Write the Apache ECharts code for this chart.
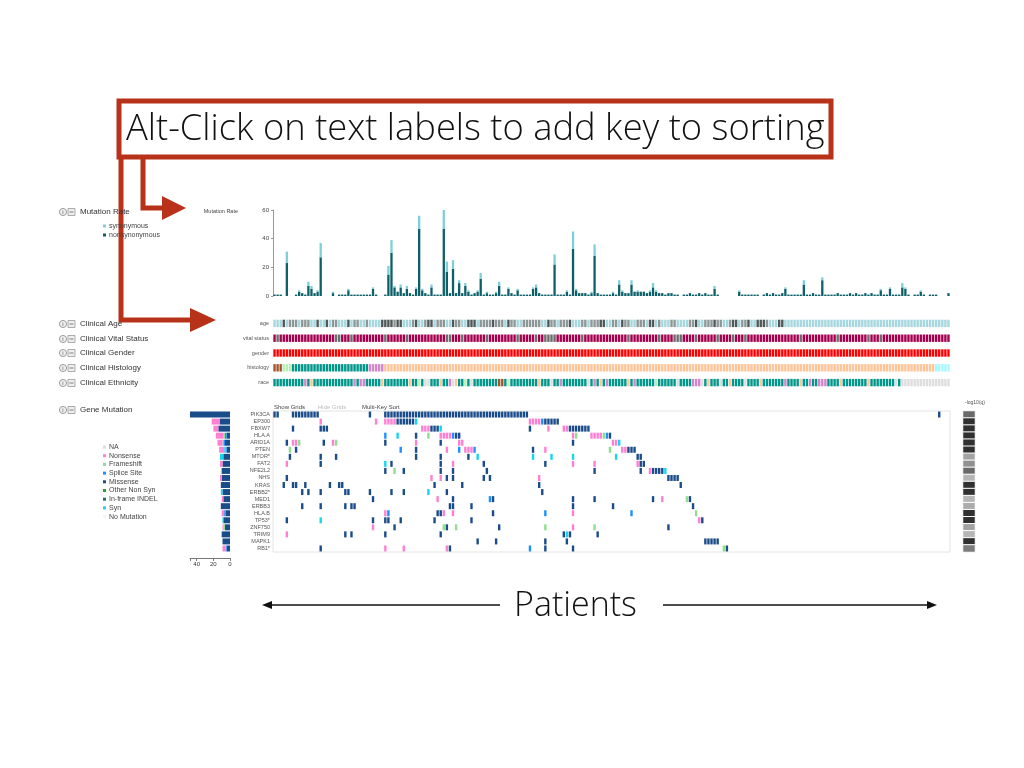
<!DOCTYPE html>
<html>
<head>
<meta charset="utf-8">
<script src="https://cdn.jsdelivr.net/npm/echarts@6/dist/echarts.min.js"></script>
<style>
html, body { margin: 0; padding: 0; background: #fff; }
#main { width: 1024px; height: 768px; }
</style>
</head>
<body>
<div id="main"></div>
<script>
var N_PAT = 220;

// mutation rate per patient
var nonsynRate = [
	1,1,1,0,23,0,0,1,3,2,1,7,5,2,3,27,0,0,0,2,
	0,1,1,1,4,1,1,1,1,1,1,1,5,1,0,0,1,15,30,6,
	3,6,2,5,2,1,5,47,4,2,1,6,1,1,1,47,17,2,19,2,
	9,2,7,3,1,2,3,12,1,2,1,1,2,7,1,1,5,2,1,4,
	1,1,1,1,5,6,2,1,1,1,1,22,1,1,1,3,1,33,4,2,
	2,2,1,2,28,2,1,1,1,1,2,1,8,3,2,2,8,3,3,3,
	3,2,3,6,3,2,2,1,2,2,1,1,0,1,1,2,1,1,2,1,
	2,1,1,5,1,0,0,0,0,0,0,3,1,1,1,1,1,1,0,1,
	2,1,2,1,1,2,5,1,1,1,1,1,8,1,1,2,1,1,11,1,
	1,1,1,2,1,1,1,2,1,2,1,1,2,1,2,1,1,4,1,1,
	5,1,1,1,6,5,1,0,1,1,3,1,0,1,1,1,0,0,0,2
];
var synRate = [
	0,0,0,0,8,0,0,0,1,0,0,3,2,0,1,10,0,0,0,1,
	0,0,0,0,1,0,0,0,0,0,0,0,1,0,0,0,0,6,9,1,
	0,2,0,2,0,0,1,9,1,0,0,2,0,0,0,14,7,0,6,0,
	2,0,2,1,0,0,1,4,0,1,0,0,1,3,0,0,1,0,0,1,
	0,0,0,0,1,2,0,0,0,0,0,7,0,0,0,1,0,12,1,0,
	0,0,0,1,8,0,0,0,0,0,1,0,3,1,0,0,3,0,1,0,
	0,0,1,3,1,0,0,0,0,0,0,0,0,0,0,0,0,0,0,0,
	0,0,0,2,0,0,0,0,0,0,0,1,0,0,0,0,0,0,0,0,
	0,0,0,0,0,0,1,0,0,0,0,0,3,0,0,0,0,0,2,0,
	0,0,0,0,0,0,0,0,0,0,0,0,0,0,0,0,0,1,0,0,
	1,0,0,0,3,1,0,0,0,0,1,0,0,0,0,0,0,0,0,0
];

// clinical tracks as runs [code, count]
var ageRuns = [['a',3],['b',1],['a',1],['c',3],['a',1],['c',3],['a',2],['b',1],['a',2],['b',1],['a',1],['c',2],['a',3],['b',1],['a',1],['c',2],['a',2],['c',1],['a',4],['b',4],['c',1],['b',2],['a',3],['c',1],['b',1],['a',2],['c',1],['b',2],['a',1],['c',3],['a',2],['b',1],['c',2],['a',2],['b',3],['a',1],['c',4],['b',1],['c',3],['a',1],['b',1],['c',2],['a',2],['c',6],['a',2],['b',1],['c',2],['a',1],['c',3],['b',1],['a',3],['c',2],['a',1],['c',3],['b',2],['a',2],['c',2],['a',1],['b',1],['c',2],['a',2],['c',3],['a',1],['b',2],['a',1],['c',1],['a',3],['c',2],['a',4],['c',2],['b',1],['a',2],['c',3],['b',1],['c',2],['a',2],['c',1],['b',2],['a',1],['c',2],['b',1],['a',2],['b',3],['c',1],['a',3],['b',2],['a',1],['a',5]];
var vitalRuns = [['p',1],['g',1],['p',18],['g',2],['p',3],['g',1],['p',10],['g',1],['p',6],['g',1],['p',12],['g',2],['p',3],['g',1],['p',7],['g',1],['p',9],['g',1],['p',5],['g',1],['p',2],['g',4],['p',8],['g',1],['p',14],['g',1],['p',9],['g',1],['p',4],['g',3],['p',4],['g',1],['p',6],['g',1],['p',4],['g',1],['p',3],['g',1],['p',17],['g',1],['p',11],['g',1],['p',9],['g',1],['p',3],['g',1],['p',4]];
var genderRuns = [['r',220]];
var histologyRuns = [['h1',3],['h2',3],['h3',25],['h4',5],['h5',179],['h6',5]];
var raceRuns = [['t',10],['k',1],['t',1],['o',1],['t',13],['k',1],['t',1],['k',2],['t',5],['o',1],['t',8],['o',1],['t',2],['l',1],['t',1],['w',2],['t',3],['o',1],['t',2],['k',1],['w',1],['o',1],['t',2],['l',1],['t',1],['w',1],['t',8],['h1',2],['t',1],['l',1],['t',9],['o',1],['t',3],['w',1],['t',2],['k',1],['t',8],['w',1],['t',1],['k',1],['t',1],['o',1],['t',1],['k',1],['t',6],['o',1],['t',1],['k',1],['t',6],['l',1],['t',6],['w',1],['t',4],['k',3],['w',1],['t',1],['o',1],['t',3],['w',1],['t',2],['o',1],['t',4],['w',1],['t',4],['o',1],['t',7],['k',1],['t',4],['o',1],['t',2],['k',1],['t',2],['k',3],['t',4],['o',1],['t',8],['o',1],['t',8],['w',1],['t',1],['w',1]];
var trackNames = ['age', 'vital status', 'gender', 'histology', 'race'];

var clinicalColors = {
	a: '#a6d7de', b: '#4f5858', c: '#8d9797',
	p: '#a3004f', g: '#6c6c6c',
	r: '#ff0000',
	h1: '#a3562b', h2: '#b8f0b8', h3: '#00968a', h4: '#d285c9', h5: '#ffc497', h6: '#a8f8ff',
	t: '#00968a', o: '#ffc497', k: '#d285c9', l: '#b8f0b8', w: '#dedede'
};

// gene mutations: "from-to:type" or "idx:type"
var genes = ['PIK3CA','EP300','FBXW7','HLA.A','ARID1A','PTEN','MTOR*','FAT2','NFE2L2','NHS','KRAS','ERBB2*','MED1','ERBB3','HLA.B','TP53*','ZNF750','TRIM9','MAPK1','RB1*'];
var geneEvents = [
	['0-1:M','6-14:M','31:M','36-82:M','216:M'],
	['15:N','33:N','36-39:N','40-45:M','46:Y','83-86:N','87:S','88-92:M'],
	['6:M','15-17:M','48-50:N','51-53:M','54:Y','83:M','89:N','94-95:N','96-102:M'],
	['36:S','40:Y','46:M','50:F','54-57:N','58:S','59-60:M','97:N','98:F','103-106:N','107:F','108:S','109:M'],
	['4:M','6-7:N','8:F','16:M','19:N','20:F','36:M','46:N','54:M','60-61:N','97:M','110-111:N','112:Y'],
	['5:F','7:M','41:S','46:M','56:N','60:S','62-63:N','64:N','65:S','84:M','88:N','109:F','113-114:N','115-117:M'],
	['5:M','15:M','20:M','46:M','54:M','63:M','66:Y','84:Y','90:Y','97:Y','111:Y','118-119:M'],
	['4:N','15:M','36:Y','38:M','54:M','58:N','68:M','88:M','97:N','104:N','118:N','119-120:M'],
	['36:M','39:F','42:M','54:M','58:M','69:M','104:M','119:M','122:N','123-126:M','127:Y'],
	['4:M','51:N','54:N','56:M','58:M','68:M','70:M','86:N','128-131:M'],
	['3:M','6-7:M','10:M','18:M','21-22:M','52:M','61:M','86:M','132:M'],
	['9:M','11:M','15:M','23-24:M','31:M','38:M','42:M','50:Y','56:M','87:M'],
	['32:M','53:N','58:M','70:S','71:M','97:M','104:M','123:M','126:N','134:F','135:M'],
	['9:M','15:M','23:M','25-26:M','57-58:M','64:M','97:M','110:M','136:M'],
	['36:N','37:S','53-54:M','55:N','58:N','71:M','88:S','97:N','116:S','137:F'],
	['4:M','15:Y','32:M','36-37:M','41:M','52:M','64:M','138:N','139:M'],
	['32:N','39:M','55:F','56:M','59:F','73:M','88:F','97:N','104:F','128:M'],
	['4:N','23:M','25:M','36:M','54:M','94:M','95:Y','96:M','105:M'],
	['66:M','72:M','88:M','95:M','140-144:M'],
	['15:M','36:N','42:N','56:N','57:M','83:S','88:M','97:M','146:F','147:M']
];
var typeColors = { M: '#1b4c8a', N: '#ff80d2', F: '#8fdf8f', S: '#1e8fff', O: '#2ca02c', I: '#1e6e6e', Y: '#14d6f0' };

// side bar counts per gene
var barMissense = [50,12,14,4,6,4,8,9,10,10,11,9,8,11,5,8,6,10,9,4];
var barSplice   = [0,0,0,2,2,1,0,0,0,0,0,0,0,0,2,0,0,0,0,1];
var barSyn      = [0,0,0,0,0,2,4,0,0,0,0,2,0,0,0,1,0,0,0,0];
var barFrame    = [0,0,0,2,1,0,0,0,1,0,0,0,0,0,0,0,2,0,0,0];
var barNonsense = [0,10,6,9,6,6,0,3,0,2,0,0,2,0,3,0,1,0,0,4];
var barTicks = [40, 20, 0];

// -log10(q) per gene
var qValues = [6,9,9,9,9,9,3,4,6,2,9,9,2,2.5,9,9,3,2,9,5];

var legendItems = [['NA','#dddddd'],['Nonsense','#ff80d2'],['Frameshift','#8fdf8f'],['Splice Site','#1e8fff'],['Missense','#1b4c8a'],['Other Non Syn','#2ca02c'],['In-frame INDEL','#1e6e6e'],['Syn','#14d6f0'],['No Mutation','#f4f4f4']];
var leftLabels = [['Mutation Rate',212],['Clinical Age',324],['Clinical Vital Status',339],['Clinical Gender',353],['Clinical Histology',368],['Clinical Ethnicity',383],['Gene Mutation',410]];

function expand(runs) {
	var out = [];
	runs.forEach(function (r) {
		for (var k = 0; k < r[1]; k++) out.push(r[0]);
	});
	while (out.length < N_PAT) out.push(runs[runs.length - 1][0]);
	return out.slice(0, N_PAT);
}

var patients = [];
for (var i = 0; i < N_PAT; i++) patients.push(String(i));

var clinicalData = [];
[ageRuns, vitalRuns, genderRuns, histologyRuns, raceRuns].forEach(function (runs, row) {
	expand(runs).forEach(function (code, idx) {
		clinicalData.push({ value: [idx, row], itemStyle: { color: clinicalColors[code] } });
	});
});

var mutationData = [];
geneEvents.forEach(function (list, row) {
	list.forEach(function (ev) {
		var parts = ev.split(':');
		var range = parts[0].split('-');
		var a = +range[0], b = range.length > 1 ? +range[1] : a;
		for (var k = a; k <= b; k++) {
			mutationData.push({ value: [k, row], itemStyle: { color: typeColors[parts[1]] } });
		}
	});
});

function cellRenderer(wFrac, hFrac) {
	return function (params, api) {
		var p = api.coord([api.value(0), api.value(1)]);
		var s = api.size([1, 1]);
		var w = s[0] * wFrac, h = s[1] * hFrac;
		return {
			type: 'rect',
			shape: { x: p[0] - w / 2, y: p[1] - h / 2, width: w, height: h },
			style: { fill: api.visual('color') }
		};
	};
}

var font = '"Liberation Sans", Arial, sans-serif';
var titleFont = '"Open Sans", "Liberation Sans", sans-serif';
var graphics = [];

// annotation box and arrows
graphics.push({ type: 'rect', shape: { x: 119, y: 101, width: 712, height: 56 }, style: { fill: 'none', stroke: '#b8321a', lineWidth: 5 } });
graphics.push({ type: 'text', x: 126, y: 130, style: { text: 'Alt-Click on text labels to add key to sorting', font: '300 36.3px ' + titleFont, fill: '#111', verticalAlign: 'middle' } });
graphics.push({ type: 'polyline', shape: { points: [[143, 157], [143, 208], [165, 208]] }, style: { stroke: '#b8321a', lineWidth: 5, fill: 'none' } });
graphics.push({ type: 'polygon', shape: { points: [[162, 196], [186, 208], [162, 220]] }, style: { fill: '#b8321a' } });
graphics.push({ type: 'polyline', shape: { points: [[121, 157], [121, 320], [195, 320]] }, style: { stroke: '#b8321a', lineWidth: 5, fill: 'none' } });
graphics.push({ type: 'polygon', shape: { points: [[190, 308], [216, 320], [190, 332]] }, style: { fill: '#b8321a' } });

// patients axis annotation
graphics.push({ type: 'text', x: 514, y: 606, style: { text: 'Patients', font: '300 34px ' + titleFont, fill: '#111', verticalAlign: 'middle' } });
graphics.push({ type: 'line', shape: { x1: 266, y1: 605, x2: 500, y2: 605 }, style: { stroke: '#111', lineWidth: 1.3 } });
graphics.push({ type: 'polygon', shape: { points: [[262, 605], [272, 601], [272, 609]] }, style: { fill: '#111' } });
graphics.push({ type: 'line', shape: { x1: 663, y1: 605, x2: 932, y2: 605 }, style: { stroke: '#111', lineWidth: 1.3 } });
graphics.push({ type: 'polygon', shape: { points: [[937, 605], [927, 601], [927, 609]] }, style: { fill: '#111' } });

// left labels with icons
leftLabels.forEach(function (l) {
	graphics.push({ type: 'circle', shape: { cx: 63, cy: l[1], r: 3.6 }, style: { fill: '#eee', stroke: '#888', lineWidth: 0.8 } });
	graphics.push({ type: 'text', x: 63, y: l[1], style: { text: 'i', font: '6px ' + font, fill: '#555', align: 'center', verticalAlign: 'middle' } });
	graphics.push({ type: 'rect', shape: { x: 68, y: l[1] - 3.5, width: 7, height: 7 }, style: { fill: '#eee', stroke: '#999', lineWidth: 0.8 } });
	graphics.push({ type: 'line', shape: { x1: 69.5, y1: l[1], x2: 73.5, y2: l[1] }, style: { stroke: '#666', lineWidth: 0.8 } });
	graphics.push({ type: 'text', x: 80, y: l[1], style: { text: l[0], font: '8px ' + font, fill: '#333', verticalAlign: 'middle' } });
});
[['synonymous', '#7fcfd8', 226], ['nonsynonymous', '#0d6068', 235]].forEach(function (s) {
	graphics.push({ type: 'rect', shape: { x: 103, y: s[2] - 1.5, width: 3, height: 3 }, style: { fill: s[1] } });
	graphics.push({ type: 'text', x: 109, y: s[2], style: { text: s[0], font: '7px ' + font, fill: '#444', verticalAlign: 'middle' } });
});
legendItems.forEach(function (it, k) {
	var y = 447 + k * 8.7;
	graphics.push({ type: 'rect', shape: { x: 103, y: y - 1.5, width: 3, height: 3 }, style: { fill: it[1] } });
	graphics.push({ type: 'text', x: 109, y: y, style: { text: it[0], font: '7px ' + font, fill: '#444', verticalAlign: 'middle' } });
});

// small texts around tracks
graphics.push({ type: 'text', x: 238, y: 211, style: { text: 'Mutation Rate', font: '5.5px ' + font, fill: '#444', align: 'right', verticalAlign: 'middle' } });
graphics.push({ type: 'text', x: 274, y: 407, style: { text: 'Show Grids', font: '6px ' + font, fill: '#444', verticalAlign: 'middle' } });
graphics.push({ type: 'text', x: 318, y: 407, style: { text: 'Hide Grids', font: '6px ' + font, fill: '#bbb', verticalAlign: 'middle' } });
graphics.push({ type: 'text', x: 362, y: 407, style: { text: 'Multi-Key Sort', font: '6px ' + font, fill: '#444', verticalAlign: 'middle' } });
graphics.push({ type: 'text', x: 965, y: 403, style: { text: '-log10(q)', font: '5px ' + font, fill: '#555', verticalAlign: 'middle' } });

var chart = echarts.init(document.getElementById('main'));

chart.setOption({
	animation: false,
	grid: [
		{ left: 273, right: 74, top: 210, height: 86 },
		{ left: 273, right: 74, top: 316, height: 74 },
		{ left: 273, right: 74, top: 411, height: 141, show: true, borderColor: '#e4e4e4', borderWidth: 1 },
		{ left: 190, right: 794, top: 411, height: 141 },
		{ left: 963, right: 49, top: 411, height: 141 }
	],
	xAxis: [
		{ gridIndex: 0, type: 'category', data: patients, show: false },
		{ gridIndex: 1, type: 'category', data: patients, show: false },
		{ gridIndex: 2, type: 'category', data: patients, show: false },
		{ gridIndex: 3, type: 'value', inverse: true, min: 0, max: 48, interval: 20, offset: 6,
			axisLine: { show: true, lineStyle: { color: '#777' } }, axisTick: { show: true, length: 3 },
			splitLine: { show: false },
			axisLabel: { fontSize: 6, color: '#333', margin: 3, fontFamily: font,
				formatter: function (v) { return barTicks.indexOf(v) >= 0 ? v : ''; } } },
		{ gridIndex: 4, type: 'category', data: ['q'], show: false }
	],
	yAxis: [
		{ gridIndex: 0, type: 'value', min: 0, max: 60, interval: 20,
			axisLine: { show: true, lineStyle: { color: '#999' } }, axisTick: { show: true, length: 2 },
			splitLine: { show: false },
			axisLabel: { fontSize: 6, color: '#444', margin: 4, fontFamily: font } },
		{ gridIndex: 1, type: 'category', data: trackNames, inverse: true,
			axisLine: { show: false }, axisTick: { show: false },
			axisLabel: { fontSize: 5.5, color: '#555', margin: 4, interval: 0, fontFamily: font } },
		{ gridIndex: 2, type: 'category', data: genes, inverse: true,
			axisLine: { show: false }, axisTick: { show: false },
			axisLabel: { fontSize: 5.5, color: '#555', margin: 3, interval: 0, fontFamily: font } },
		{ gridIndex: 3, type: 'category', data: genes, inverse: true, show: false },
		{ gridIndex: 4, type: 'category', data: genes, inverse: true, show: false }
	],
	visualMap: {
		show: false, seriesIndex: 9, min: 0, max: 9, dimension: 2,
		inRange: { color: ['#dcdcdc', '#303030'] }
	},
	series: [
		{ type: 'bar', xAxisIndex: 0, yAxisIndex: 0, stack: 'rate', data: nonsynRate, barCategoryGap: '25%', itemStyle: { color: '#0d6068' } },
		{ type: 'bar', xAxisIndex: 0, yAxisIndex: 0, stack: 'rate', data: synRate, itemStyle: { color: '#7fcfd8' } },
		{ type: 'custom', xAxisIndex: 1, yAxisIndex: 1, renderItem: cellRenderer(0.78, 0.5), data: clinicalData },
		{ type: 'custom', xAxisIndex: 2, yAxisIndex: 2, renderItem: cellRenderer(0.78, 0.85), data: mutationData },
		{ type: 'bar', xAxisIndex: 3, yAxisIndex: 3, stack: 'g', data: barMissense, barWidth: '85%', itemStyle: { color: '#1b4c8a' } },
		{ type: 'bar', xAxisIndex: 3, yAxisIndex: 3, stack: 'g', data: barSplice, itemStyle: { color: '#1e8fff' } },
		{ type: 'bar', xAxisIndex: 3, yAxisIndex: 3, stack: 'g', data: barSyn, itemStyle: { color: '#14d6f0' } },
		{ type: 'bar', xAxisIndex: 3, yAxisIndex: 3, stack: 'g', data: barFrame, itemStyle: { color: '#8fdf8f' } },
		{ type: 'bar', xAxisIndex: 3, yAxisIndex: 3, stack: 'g', data: barNonsense, itemStyle: { color: '#ff80d2' } },
		{ type: 'heatmap', xAxisIndex: 4, yAxisIndex: 4,
			data: qValues.map(function (q, k) { return [0, k, q]; }),
			itemStyle: { borderColor: '#fff', borderWidth: 1 } }
	],
	graphic: graphics
});
</script>
</body>
</html>
